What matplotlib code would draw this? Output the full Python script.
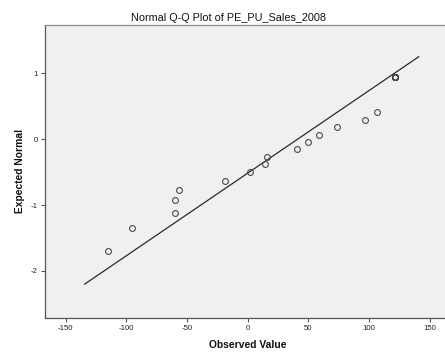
import numpy as np
import matplotlib
matplotlib.use("Agg")
import matplotlib.pyplot as plt

# Observed sales values and their expected normal scores
observed = [-114.8, -95.3, -60.1, -59.9, -56.3, -18.9, 2.1, 14.5, 16.1,
            40.8, 49.9, 58.5, 73.8, 96.8, 106.5,
            121.6, 121.6, 121.6, 121.6, 121.6, 121.6, 121.6]
expected = [-1.70, -1.35, -1.12, -0.93, -0.77, -0.63, -0.50, -0.38, -0.27,
            -0.15, -0.04, 0.07, 0.18, 0.29, 0.41,
            0.95, 0.95, 0.95, 0.95, 0.95, 0.95, 0.95]

# Extent of the reference line along the observed axis
line_range = [-134.6, 141.3]

x_ticks = [-150, -100, -50, 0, 50, 100, 150]
x_tick_labels = ["-150", "-100", "-50", "0", "50", "100", "150"]
y_ticks = [-2, -1, 0, 1]
y_tick_labels = ["-2", "-1", "0", "1"]

plt.rcParams["font.family"] = ["Liberation Sans", "DejaVu Sans"]
plt.rcParams["axes.unicode_minus"] = False

W, H = 445, 352
fig = plt.figure(figsize=(W / 100, H / 100), dpi=100)
fig.patch.set_facecolor("white")

left, right, top, bottom = 45, 445, 24.7, 318.3
ax = fig.add_axes([left / W, 1 - bottom / H, (right - left) / W, (bottom - top) / H])
ax.set_facecolor("#F0F0F0")

obs = np.array(observed)
exp_ = np.array(expected)
mu = obs.mean()
sd = obs.std(ddof=1)
lx = np.array(line_range)
ax.plot(lx, (lx - mu) / sd, color="#2a2a2a", lw=0.9, solid_capstyle="butt")

ax.plot(obs, exp_, linestyle="none", marker="o", markersize=4.2,
        markerfacecolor="none", markeredgecolor="#4a4a4a", markeredgewidth=0.8)

ax.set_xlim(-166.9, 162.5)
ax.set_ylim(-2.718, 1.737)

ax.set_xticks(x_ticks)
ax.set_xticklabels(x_tick_labels)
ax.set_yticks(y_ticks)
ax.set_yticklabels(y_tick_labels)
ax.tick_params(axis="both", direction="out", length=3, width=0.8,
               color="#555555", labelsize=5.6, labelcolor="#222222", pad=2)

for side in ("left", "bottom"):
    ax.spines[side].set_color("#555555")
    ax.spines[side].set_linewidth(0.9)
ax.spines["top"].set_color("#8c8c8c")
ax.spines["top"].set_linewidth(0.9)
ax.spines["right"].set_visible(False)

fig.text(229 / W, 1 - 21.3 / H, "Normal Q-Q Plot of PE_PU_Sales_2008",
         ha="center", va="baseline", fontsize=7.8, color="#111111")
fig.text(247.7 / W, 1 - 345 / H, "Observed Value", ha="center", va="center",
         fontsize=7.4, fontweight="bold", color="#111111")
fig.text(20 / W, 1 - 171 / H, "Expected Normal", ha="center", va="center",
         rotation=90, fontsize=7.4, fontweight="bold", color="#111111")

fig.savefig("out.png", dpi=100)
